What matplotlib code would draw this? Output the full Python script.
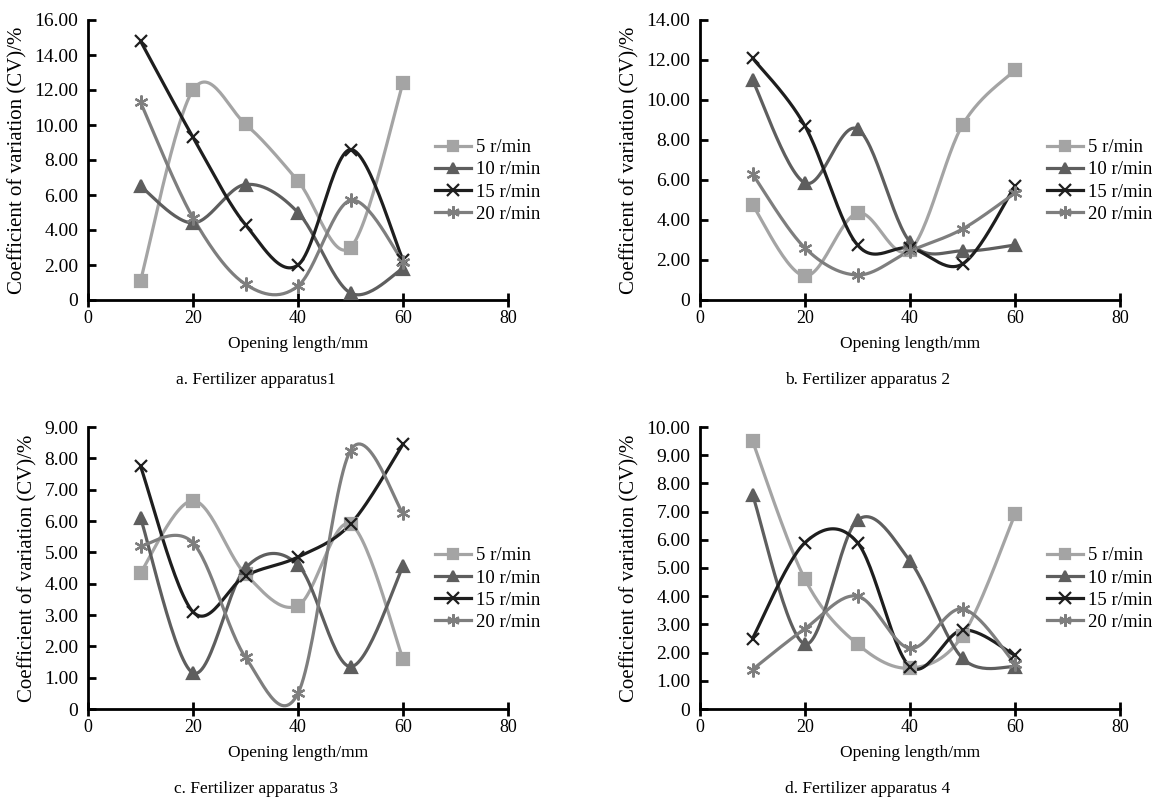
import numpy as np
import matplotlib
matplotlib.use("Agg")
import matplotlib.pyplot as plt
from matplotlib.ticker import FuncFormatter

plt.rcParams['font.family'] = ['Liberation Serif', 'DejaVu Serif']

# data
opening = [10, 20, 30, 40, 50, 60]
speeds = ["5 r/min", "10 r/min", "15 r/min", "20 r/min"]

cv_a = [[1.1, 12.0, 10.05, 6.8, 3.0, 12.4],
        [6.5, 4.4, 6.6, 5.0, 0.4, 1.8],
        [14.8, 9.3, 4.3, 2.0, 8.6, 2.3],
        [11.3, 4.7, 0.9, 0.8, 5.7, 2.2]]
cv_b = [[4.75, 1.2, 4.35, 2.5, 8.75, 11.5],
        [11.0, 5.85, 8.55, 2.9, 2.45, 2.75],
        [12.1, 8.7, 2.75, 2.6, 1.8, 5.7],
        [6.3, 2.6, 1.25, 2.45, 3.55, 5.35]]
cv_c = [[4.35, 6.65, 4.3, 3.3, 5.9, 1.6],
        [6.1, 1.15, 4.5, 4.6, 1.35, 4.55],
        [7.75, 3.1, 4.25, 4.85, 5.9, 8.45],
        [5.2, 5.3, 1.65, 0.5, 8.25, 6.25]]
cv_d = [[9.5, 4.6, 2.3, 1.45, 2.6, 6.9],
        [7.6, 2.3, 6.7, 5.25, 1.8, 1.5],
        [2.5, 5.9, 5.9, 1.5, 2.8, 1.9],
        [1.4, 2.85, 4.0, 2.15, 3.55, 1.6]]

panels = [
    (cv_a, 16, 2, "a. Fertilizer apparatus1"),
    (cv_b, 14, 2, "b. Fertilizer apparatus 2"),
    (cv_c, 9, 1, "c. Fertilizer apparatus 3"),
    (cv_d, 10, 1, "d. Fertilizer apparatus 4"),
]

colors = ["#a4a4a4", "#5e5e5e", "#1e1e1e", "#7e7e7e"]
markers = ["s", "^", "x", (6, 2, 0)]
msizes = [8, 8, 9, 10]


def smooth(xs, ys, n=30):
    # excel-like smoothed line: catmull-rom bezier through the points
    p = np.column_stack([xs, ys]).astype(float)
    p = np.vstack([p[0], p, p[-1]])
    out = []
    for i in range(1, len(p) - 2):
        p0, p1, p2, p3 = p[i - 1], p[i], p[i + 1], p[i + 2]
        c1 = p1 + (p2 - p0) / 6.0
        c2 = p2 - (p3 - p1) / 6.0
        t = np.linspace(0, 1, n)[:, None]
        seg = ((1 - t) ** 3) * p1 + 3 * ((1 - t) ** 2) * t * c1 + 3 * (1 - t) * t ** 2 * c2 + t ** 3 * p2
        out.append(seg if i == 1 else seg[1:])
    out = np.vstack(out)
    return out[:, 0], out[:, 1]


fig = plt.figure(figsize=(11.55, 7.98), dpi=100)
lefts = [88, 700, 88, 700]
bottoms = [300, 300, 709, 709]
tops = [20, 20, 427, 427]
W, H = 1155.0, 798.0

for k, (data, ymax, ystep, caption) in enumerate(panels):
    ax = fig.add_axes([lefts[k] / W, (H - bottoms[k]) / H, 420 / W, (bottoms[k] - tops[k]) / H])
    for j in range(4):
        sx, sy = smooth(opening, data[j])
        ax.plot(sx, sy, color=colors[j], lw=2.3, zorder=2 + j * 0.1, solid_capstyle='round')
        ax.plot(opening, data[j], linestyle='none', marker=markers[j], ms=msizes[j],
                color=colors[j], mec=colors[j], mew=1.6, zorder=3 + j * 0.1)
    # legend proxies
    handles = [plt.Line2D([], [], color=colors[j], lw=2.3, marker=markers[j], ms=msizes[j] - 1,
                          mew=1.6, mec=colors[j]) for j in range(4)]
    ax.legend(handles, speeds, loc='center left', bbox_to_anchor=(0.826, 0.425), frameon=False,
              fontsize=13.5, handlelength=1.9, labelspacing=0.27, borderaxespad=0, borderpad=0,
              handletextpad=0.3)

    ax.set_xlim(0, 80)
    ax.set_ylim(0, ymax)
    ax.set_xticks([0, 20, 40, 60, 80])
    ax.set_yticks(np.arange(0, ymax + 0.001, ystep))
    ax.yaxis.set_major_formatter(FuncFormatter(lambda v, pos: "0" if v == 0 else "%.2f" % v))
    for s in ["top", "right"]:
        ax.spines[s].set_visible(False)
    for s in ["left", "bottom"]:
        ax.spines[s].set_linewidth(2.0)
        ax.spines[s].set_color("black")
    ax.tick_params(axis='y', direction='in', length=6, width=2.0, labelsize=14, pad=7)
    ax.tick_params(axis='x', direction='inout', length=10, width=2.0, labelsize=13, pad=2)
    ax.set_xlabel("Opening length/mm", fontsize=12.5, labelpad=7)
    ax.set_ylabel("Coefficient of variation (CV)/%", fontsize=15, labelpad=5)
    ax.text(0.4, -0.285, caption, transform=ax.transAxes, ha='center', va='center', fontsize=12.5)

fig.savefig("out.png", dpi=100, facecolor="white")
